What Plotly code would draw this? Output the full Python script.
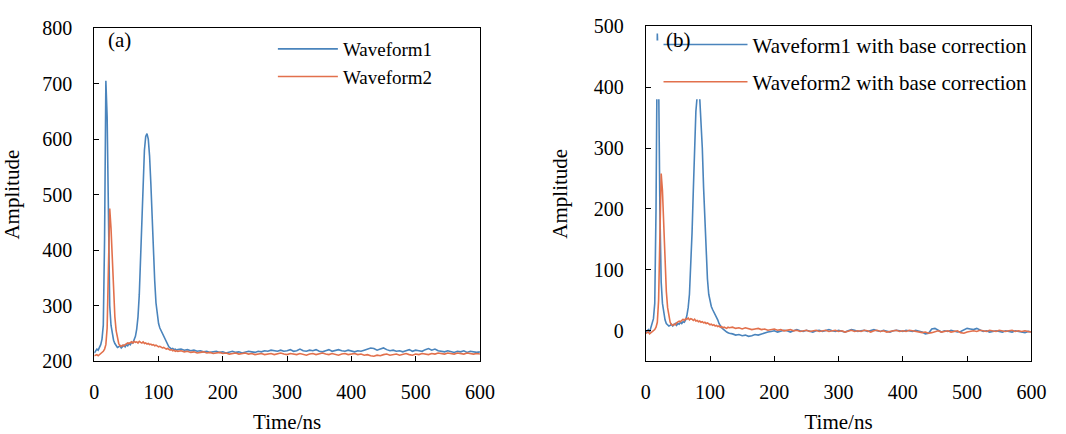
import plotly.graph_objects as go

# sampling grid (ns): fine 2 ns steps up to 130 ns, then 5 ns steps
time_ns = list(range(0, 131, 2)) + list(range(135, 601, 5))

wave1_raw = [
    215, 218, 222, 220, 225, 230, 240, 265, 420, 705, 640,
    420, 300, 265, 248, 238, 232, 228, 225, 226, 228, 224,
    227, 229, 226, 230, 228, 232, 230, 234, 233, 238, 245,
    258, 280, 320, 380, 450, 525, 580, 605, 610, 600, 570,
    520, 455, 395, 345, 305, 280, 268, 260, 255, 250, 246,
    240, 236, 230, 226, 224, 222, 223, 221, 222, 220, 221,
    222, 220, 221, 219, 220, 218, 219, 217, 218, 216,
    217, 218, 216, 217, 215, 216, 218, 216, 217, 215,
    216, 218, 217, 216, 218, 217, 219, 218, 220, 219,
    218, 220, 218, 219, 221, 218, 219, 222, 219, 218,
    220, 219, 221, 218, 217, 219, 221, 218, 220, 221,
    219, 218, 220, 219, 217, 219, 218, 220, 222, 224,
    223, 220, 222, 224, 221, 219, 220, 218, 219, 217,
    219, 221, 218, 220, 219, 218, 221, 223, 220, 222,
    219, 218, 217, 219, 218, 216, 218, 217, 219, 216,
    218, 217, 216, 217,
]

wave2_raw = [
    210, 211, 212, 210, 212, 214, 216, 218, 222, 230, 260,
    400, 475, 440, 380, 320, 280, 255, 240, 232, 228, 227,
    229, 228, 230, 231, 233, 232, 234, 235, 233, 236, 234,
    235, 233, 236, 234, 233, 235, 232, 233, 231, 232, 230,
    231, 229, 230, 228, 229, 227, 226, 227, 225, 224, 225,
    223, 222, 223, 221, 220, 221, 219, 220, 218, 219, 218,
    219, 217, 218, 216, 217, 215, 216, 217, 215, 216,
    214, 215, 216, 214, 215, 213, 214, 215, 213, 214,
    215, 213, 214, 212, 213, 214, 212, 213, 214, 212,
    213, 215, 213, 212, 214, 213, 212, 214, 213, 211,
    213, 214, 212, 213, 215, 213, 212, 214, 213, 211,
    213, 214, 212, 213, 214, 212, 213, 211, 212, 210,
    209, 211, 210, 212, 213, 211, 212, 213, 211, 212,
    214, 212, 211, 213, 212, 214, 213, 212, 214, 213,
    215, 214, 213, 215, 214, 213, 215, 214, 213, 215,
    214, 213, 214, 213,
]

wave1_corr = [
    -3, 0, 2, -2, 5, 10, 20, 45, 200, 488, 420,
    200, 80, 45, 28, 18, 12, 10, 8, 9, 11, 8,
    10, 12, 9, 12, 11, 14, 12, 15, 14, 18, 25,
    38, 60, 100, 160, 230, 305, 360, 385, 390, 382, 350,
    300, 235, 175, 125, 85, 60, 48, 40, 35, 31, 28,
    24, 18, 12, 8, 5, 3, 1, 0, -2, -3, -4,
    -5, -7, -6, -8, -7, -9, -8, -6, -7, -5,
    -4, -2, -1, 0, -2, -1, 1, 0, -2, 0,
    2, 0, -1, 1, 0, -2, 0, 1, -1, 0,
    2, 0, -1, 1, 0, -2, 0, 2, 1, -1,
    0, 1, -1, 0, 2, 0, -1, 1, 0, -2,
    0, 1, 0, -1, 1, 0, -1, 1, 0, -2,
    -5, -4, 3, 4, 1, -2, 0, -1, 1, 0,
    -2, -1, 1, 4, 3, 2, 4, 1, -1, 0,
    -2, -1, 0, -1, -2, 0, -1, -2, 0, -1,
    -2, -3, -1, -2,
]

wave2_corr = [
    -4, -3, -2, -5, -3, -2, 0, 2, 6, 14, 50,
    190, 258, 230, 170, 110, 65, 38, 22, 14, 10, 9,
    11, 10, 13, 14, 16, 15, 18, 19, 17, 20, 19,
    21, 18, 20, 19, 17, 19, 16, 17, 15, 16, 14,
    15, 13, 14, 12, 13, 11, 10, 11, 9, 10, 8,
    9, 7, 8, 6, 7, 5, 6, 5, 4, 6, 5,
    6, 4, 5, 3, 5, 4, 2, 3, 4, 2,
    3, 1, 2, 3, 1, 2, 0, 1, 2, 0,
    1, -1, 0, 1, -1, 0, 1, -1, 0, 1,
    -1, 0, 1, -1, 0, -2, 0, 1, -1, 0,
    -1, 1, 0, -2, 0, 1, -1, 0, -2, -1,
    0, 1, -1, 0, -1, 1, 0, -1, -2, -3,
    -2, -4, -3, -1, 0, -2, -1, 0, -2, -1,
    0, -3, -4, -2, -1, 0, -1, 1, 0, -1,
    1, 0, -1, 1, 0, -1, 0, 1, -1, 0,
    -1, 0, -1, -2,
]

x_ticks = [0, 100, 200, 300, 400, 500, 600]
ya_ticks = [200, 300, 400, 500, 600, 700, 800]
yb_ticks = [0, 100, 200, 300, 400, 500]

BLUE = "#4A84BC"
RED = "#E2704C"
FONT = "Liberation Serif"

fig = go.Figure()
fig.add_trace(go.Scatter(x=time_ns, y=wave1_raw, mode="lines", name="Waveform1",
                         line=dict(color=BLUE, width=1.6), xaxis="x", yaxis="y",
                         legend="legend"))
fig.add_trace(go.Scatter(x=time_ns, y=wave2_raw, mode="lines", name="Waveform2",
                         line=dict(color=RED, width=1.6), xaxis="x", yaxis="y",
                         legend="legend"))
fig.add_trace(go.Scatter(x=time_ns, y=wave1_corr, mode="lines",
                         name="Waveform1 with base correction",
                         line=dict(color=BLUE, width=1.6), xaxis="x2", yaxis="y2",
                         legend="legend2", legendgroup="g1"))
fig.add_trace(go.Scatter(x=time_ns, y=wave2_corr, mode="lines",
                         name="Waveform2 with base correction",
                         line=dict(color=RED, width=1.6), xaxis="x2", yaxis="y2",
                         legend="legend2", legendgroup="g2"))

W, H = 1066, 434
axis_common = dict(showline=True, linecolor="black", linewidth=1, mirror=True,
                   ticks="inside", ticklen=5, tickcolor="black", showgrid=False,
                   zeroline=False, tickfont=dict(family=FONT, size=20, color="black"),
                   title_font=dict(family=FONT, size=21, color="black"))

fig.update_layout(
    width=W, height=H, autosize=False,
    margin=dict(l=0, r=0, t=0, b=0),
    paper_bgcolor="white", plot_bgcolor="white",
    font=dict(family=FONT, size=20, color="black"),
    xaxis=dict(domain=[91 / W, 484 / W], range=[0, 600], tickvals=x_ticks,
               anchor="y", title=dict(text="Time/ns", standoff=14),
               ticklabelstandoff=13, **axis_common),
    yaxis=dict(domain=[1 - 369 / H, 1 - 18 / H], range=[200, 800], tickvals=ya_ticks,
               anchor="x", title=dict(text="Amplitude", standoff=20),
               ticklabelstandoff=17, **axis_common),
    xaxis2=dict(domain=[653 / W, 1046 / W], range=[0, 600], tickvals=x_ticks,
                anchor="y2", title=dict(text="Time/ns", standoff=14),
                ticklabelstandoff=13, **axis_common),
    yaxis2=dict(domain=[1 - 369 / H, 1 - 16 / H], range=[-50, 500], tickvals=yb_ticks,
                anchor="x2", title=dict(text="Amplitude", standoff=20),
                ticklabelstandoff=17, **axis_common),
    legend=dict(x=273 / W, y=1 - 20 / H, xanchor="left", yanchor="top",
                bgcolor="rgba(255,255,255,0)", borderwidth=0,
                font=dict(family=FONT, size=19, color="black"), itemwidth=60),
    legend2=dict(x=666 / W, y=1 - 14 / H, xanchor="left", yanchor="top",
                 bgcolor="rgba(255,255,255,0)", borderwidth=0, traceorder="grouped",
                 tracegroupgap=7,
                 font=dict(family=FONT, size=21, color="black"), itemwidth=84),
    shapes=[
        # opaque legend background of panel (b)
        dict(type="rect", xref="paper", yref="paper", layer="above",
             x0=661 / W, x1=1044 / W, y0=1 - 93 / H, y1=1 - 31 / H,
             fillcolor="white", line=dict(width=0)),
    ],
    annotations=[
        dict(text="(a)", x=117 / W, y=1 - 31 / H, xref="paper", yref="paper",
             xanchor="center", yanchor="middle", showarrow=False,
             font=dict(family=FONT, size=21, color="black")),
        dict(text="(b)", x=686 / W, y=1 - 31 / H, xref="paper", yref="paper",
             xanchor="center", yanchor="middle", showarrow=False,
             font=dict(family=FONT, size=21, color="black")),
    ],
)

fig.write_html("out.html")
